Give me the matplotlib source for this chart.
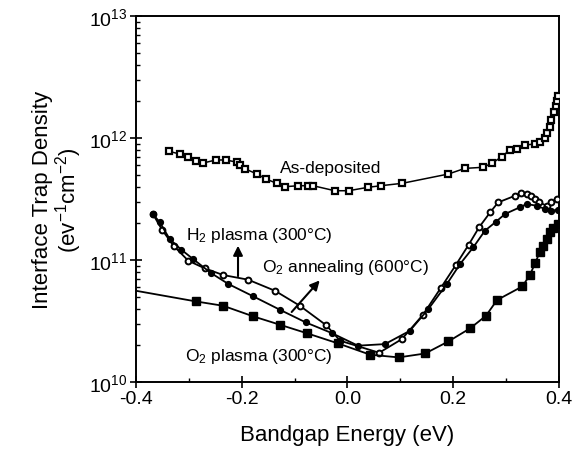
import matplotlib
matplotlib.use("Agg")
import matplotlib.pyplot as plt
from matplotlib.ticker import LogLocator, MultipleLocator, NullFormatter, FixedLocator
import numpy as np

plt.rcParams['font.family'] = ['Liberation Sans', 'DejaVu Sans']
plt.rcParams['mathtext.fontset'] = 'custom'
plt.rcParams['mathtext.rm'] = 'Liberation Sans'
plt.rcParams['mathtext.it'] = 'Liberation Sans'

# As-deposited (open squares)
asdep_x = [-0.338, -0.317, -0.302, -0.287, -0.273, -0.249, -0.230, -0.208, -0.203, -0.193,
           -0.171, -0.154, -0.134, -0.118, -0.093, -0.074, -0.065, -0.024, 0.002, 0.039,
           0.063, 0.104, 0.191, 0.222, 0.256, 0.273, 0.292, 0.307, 0.320, 0.336,
           0.355, 0.364, 0.374, 0.378, 0.383, 0.386, 0.391, 0.394, 0.396, 0.398]
asdep_log = [11.891, 11.869, 11.847, 11.809, 11.795, 11.820, 11.820, 11.801, 11.779, 11.746,
             11.705, 11.664, 11.629, 11.601, 11.609, 11.609, 11.609, 11.568, 11.568, 11.596,
             11.609, 11.629, 11.705, 11.751, 11.760, 11.792, 11.847, 11.902, 11.910, 11.943,
             11.951, 11.965, 11.997, 12.041, 12.093, 12.148, 12.211, 12.265, 12.306, 12.347]

# H2 plasma (300C) (open circles)
h2_x = [-0.368, -0.351, -0.329, -0.301, -0.270, -0.235, -0.188, -0.137, -0.090, -0.040,
        -0.014, 0.060, 0.103, 0.143, 0.177, 0.205, 0.229, 0.249, 0.270, 0.285,
        0.317, 0.329, 0.339, 0.348, 0.355, 0.363, 0.377, 0.386, 0.396]
h2_log = [11.377, 11.250, 11.117, 10.994, 10.932, 10.877, 10.839, 10.748, 10.625, 10.465,
          10.339, 10.240, 10.352, 10.552, 10.774, 10.959, 11.123, 11.268, 11.391, 11.472,
          11.527, 11.549, 11.541, 11.527, 11.500, 11.472, 11.445, 11.472, 11.500]

# O2 annealing (600C) (filled circles)
ann_x = [-0.368, -0.355, -0.336, -0.314, -0.292, -0.258, -0.225, -0.178, -0.128, -0.079,
         -0.030, 0.020, 0.071, 0.118, 0.153, 0.188, 0.213, 0.238, 0.260, 0.281,
         0.298, 0.326, 0.339, 0.358, 0.374, 0.386, 0.399]
ann_log = [11.377, 11.309, 11.170, 11.084, 11.008, 10.893, 10.803, 10.702, 10.593, 10.489,
           10.402, 10.298, 10.311, 10.420, 10.598, 10.803, 10.967, 11.104, 11.240, 11.314,
           11.377, 11.432, 11.459, 11.445, 11.418, 11.404, 11.412]

# O2 plasma (300C) (filled squares)
o2p_x = [-0.400, -0.287, -0.235, -0.178, -0.128, -0.076, -0.018, 0.043, 0.097, 0.147,
         0.191, 0.232, 0.262, 0.283, 0.331, 0.345, 0.355, 0.364, 0.370, 0.377,
         0.383, 0.389, 0.398]
o2p_log = [10.748, 10.661, 10.625, 10.538, 10.470, 10.399, 10.317, 10.224, 10.202, 10.234,
           10.333, 10.440, 10.543, 10.672, 10.784, 10.877, 10.973, 11.068, 11.112, 11.172,
           11.227, 11.259, 11.295]

ytick_exps = [10, 11, 12, 13]
xticks = [-0.4, -0.2, 0.0, 0.2, 0.4]

fig = plt.figure(figsize=(5.75, 4.56), dpi=100)
ax = fig.add_axes([0.2365, 0.160, 0.7355, 0.8027])

def pw(v):
    return np.power(10.0, np.array(v))

ax.plot(asdep_x, pw(asdep_log), color='black', lw=1.1, marker='s', ms=5,
        mfc='white', mec='black', mew=1.6, zorder=3)
ax.plot(h2_x, pw(h2_log), color='black', lw=1.3, marker='o', ms=4.2,
        mfc='white', mec='black', mew=1.4, zorder=3)
ax.plot(ann_x, pw(ann_log), color='black', lw=1.3, marker='o', ms=4.2,
        mfc='black', mec='black', zorder=3)
ax.plot(o2p_x, pw(o2p_log), color='black', lw=1.3, marker='s', ms=5.5,
        mfc='black', mec='black', markevery=list(range(1, len(o2p_x))), zorder=3)

ax.set_yscale('log')
ax.set_xlim(-0.4, 0.4)
ax.set_ylim(1e10, 1e13)

ax.yaxis.set_major_locator(FixedLocator([10.0**e for e in ytick_exps]))
ax.set_yticklabels([r'$\mathregular{10^{%d}}$' % e for e in ytick_exps], fontsize=14)
ax.yaxis.set_minor_locator(LogLocator(base=10, subs=np.arange(2, 10), numticks=20))
ax.yaxis.set_minor_formatter(NullFormatter())

ax.set_xticks(xticks)
ax.set_xticklabels(['%.1f' % v for v in xticks], fontsize=14)
ax.xaxis.set_minor_locator(MultipleLocator(0.1))

ax.tick_params(axis='both', which='minor', direction='in', length=3, width=1.0,
               top=False, right=False)
ax.tick_params(axis='both', which='major', direction='inout', length=8, width=1.2,
               pad=2, top=False, right=False)

for s in ax.spines.values():
    s.set_linewidth(1.4)

ax.set_xlabel('Bandgap Energy (eV)', fontsize=16, labelpad=12)
ax.set_ylabel('Interface Trap Density\n(ev$^{-1}$cm$^{-2}$)', fontsize=16,
              linespacing=1.0, labelpad=4)

ax.text(-0.031, 10**11.762, 'As-deposited', fontsize=12.5, ha='center', va='center')
ax.text(-0.305, 10**11.213, r'H$_2$ plasma (300°C)', fontsize=12.5, ha='left', va='center')
ax.text(-0.162, 10**10.943, r'O$_2$ annealing (600°C)', fontsize=12.5, ha='left', va='center')
ax.text(-0.307, 10**10.216, r'O$_2$ plasma (300°C)', fontsize=12.5, ha='left', va='center')

ax.annotate('', xy=(-0.207, 10**11.14), xytext=(-0.207, 10**10.845),
            arrowprops=dict(arrowstyle='-|>', color='black', lw=1.5, mutation_scale=14))
ax.annotate('', xy=(-0.049, 10**10.85), xytext=(-0.109, 10**10.557),
            arrowprops=dict(arrowstyle='-|>', color='black', lw=1.5, mutation_scale=14))

fig.savefig('out.png', dpi=100)
